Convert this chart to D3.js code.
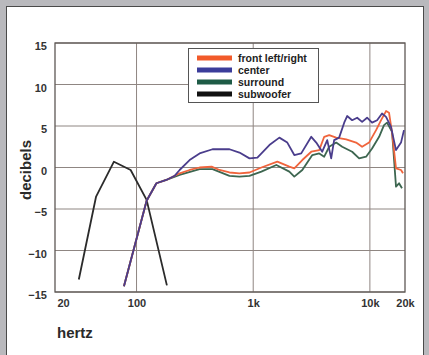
<!DOCTYPE html>
<html>
<head>
<meta charset="utf-8">
<script src="https://cdn.jsdelivr.net/npm/d3@7"></script>
<style>
  body { margin: 0; background: #b9b9bd; }
  svg { display: block; }
  text { font-family: "Liberation Sans", Arial, sans-serif; font-weight: bold; }
</style>
</head>
<body>
<svg id="chart"></svg>
<script>
// data: [hertz, decibels]
var front = [[78,-14.3],[122,-4.0],[148,-1.9],[180,-1.5],[234,-0.7],[285,-0.3],[347,0.0],[440,0.1],[514,-0.3],[626,-0.6],[762,-0.7],[929,-0.6],[1175,0.0],[1610,0.7],[2040,0.1],[2250,-0.1],[2635,0.9],[3145,1.9],[3680,2.1],[4060,3.7],[4480,3.9],[5140,3.6],[6265,3.4],[7620,3.0],[8580,2.5],[9840,3.0],[11300,4.5],[12480,5.7],[13760,6.8],[14590,6.6],[15490,4.2],[16750,-0.1],[18490,-0.3],[19230,-0.7]];
var center = [[78,-14.3],[122,-4.0],[148,-1.9],[180,-1.5],[212,-1.0],[234,-0.3],[285,0.9],[347,1.7],[448,2.2],[626,2.2],[762,1.8],[929,1.1],[1086,1.2],[1376,2.7],[1675,3.6],[1960,3.0],[2250,1.5],[2580,1.7],[3145,3.7],[3470,3.0],[3905,1.9],[4310,3.3],[4660,1.1],[4940,3.3],[5450,3.6],[6025,5.4],[6385,6.2],[7045,5.7],[7780,6.0],[8580,5.5],[9460,6.0],[10440,5.4],[11530,5.7],[12710,6.5],[13760,6.1],[15170,4.9],[16750,2.1],[18490,3.0],[19600,4.5]];
var surround = [[78,-14.3],[122,-4.0],[148,-1.9],[180,-1.5],[234,-0.9],[347,-0.2],[448,-0.2],[626,-1.0],[762,-1.1],[929,-1.0],[1175,-0.5],[1578,0.3],[2040,-0.5],[2250,-1.1],[2635,-0.3],[3210,1.5],[3680,1.7],[4060,1.3],[4480,2.5],[5140,3.0],[5790,2.5],[7045,1.9],[8090,1.1],[9280,1.3],[10440,2.3],[12000,3.7],[13220,5.1],[14030,5.4],[15490,4.3],[16750,-2.3],[17780,-1.9],[18850,-2.5]];
var subwoofer = [[32,-13.5],[45,-3.5],[64,0.7],[89,-0.3],[122,-3.9],[182,-14.2]];

var seriesNames = ["front left/right", "center", "surround", "subwoofer"];
var lineColors = ["#f0643c", "#4a3d8c", "#3d6650", "#2b2b2b"];
var swatchColors = ["#f25a2a", "#3b3c9a", "#1e5b46", "#111111"];

var xTicks = [20, 100, 1000, 10000, 20000];
var xTickLabels = ["20", "100", "1k", "10k", "20k"];
var yTicks = [15, 10, 5, 0, -5, -10, -15];

var W = 429, H = 355;
var margin = {top: 43, right: 24, bottom: 63, left: 55};
var width = W - margin.left - margin.right,
    height = H - margin.top - margin.bottom;

var svg = d3.select("#chart").attr("width", W).attr("height", H);

// white panel inside the grey frame
svg.append("rect")
  .attr("x", 6.5).attr("y", 6.5)
  .attr("width", 417).attr("height", 360)
  .attr("fill", "#ffffff")
  .attr("stroke", "#4a4a4a")
  .attr("stroke-width", 1);

var plot = svg.append("g")
  .attr("transform", "translate(" + margin.left + "," + margin.top + ")");

var x = d3.scaleLog().domain([20, 20000]).range([0, width]);
var y = d3.scaleLinear().domain([-15, 15]).range([height, 0]);

// grid
plot.append("g").selectAll("line")
  .data(yTicks)
  .enter().append("line")
  .attr("x1", 0).attr("x2", width)
  .attr("y1", function(d) { return y(d); })
  .attr("y2", function(d) { return y(d); })
  .attr("stroke", "#8f8682").attr("stroke-width", 1);

plot.append("g").selectAll("line")
  .data([100, 1000, 10000])
  .enter().append("line")
  .attr("x1", function(d) { return x(d); })
  .attr("x2", function(d) { return x(d); })
  .attr("y1", 0).attr("y2", height)
  .attr("stroke", "#8f8682").attr("stroke-width", 1);

plot.append("rect")
  .attr("width", width).attr("height", height)
  .attr("fill", "none")
  .attr("stroke", "#5e5855").attr("stroke-width", 1.3);

// axes (labels only)
var xAxis = plot.append("g")
  .attr("transform", "translate(0," + height + ")")
  .call(d3.axisBottom(x).tickValues(xTicks).tickSize(0).tickPadding(7)
    .tickFormat(function(d, i) { return xTickLabels[i]; }));
xAxis.select(".domain").remove();
xAxis.selectAll("text")
  .attr("font-size", "11px").attr("fill", "#333")
  .style("font-family", "Liberation Sans, Arial, sans-serif")
  .style("font-weight", "bold")
  .filter(function(d) { return d === 20; })
  .attr("text-anchor", "start").attr("dx", "2");

var yAxis = plot.append("g")
  .call(d3.axisLeft(y).tickValues(yTicks).tickSize(0).tickPadding(8)
    .tickFormat(function(d) { return d < 0 ? "\u2212" + Math.abs(d) : d; }));
yAxis.select(".domain").remove();
yAxis.selectAll("text")
  .attr("font-size", "11px").attr("fill", "#333")
  .style("font-family", "Liberation Sans, Arial, sans-serif")
  .style("font-weight", "bold")
  .attr("dy", "0.6em");

// axis titles
svg.append("text")
  .attr("x", 57).attr("y", 338)
  .attr("font-size", "15px").attr("fill", "#2a2a2a")
  .text("hertz");

svg.append("text")
  .attr("transform", "translate(31,170) rotate(-90)")
  .attr("text-anchor", "middle")
  .attr("font-size", "15px").attr("fill", "#2a2a2a")
  .text("decibels");

// curves
var line = d3.line()
  .x(function(d) { return x(d[0]); })
  .y(function(d) { return y(d[1]); });

var allSeries = [front, center, surround, subwoofer];
// draw subwoofer first, then surround, front, center on top
[3, 2, 0, 1].forEach(function(i) {
  plot.append("path")
    .datum(allSeries[i])
    .attr("fill", "none")
    .attr("stroke", lineColors[i])
    .attr("stroke-width", 1.8)
    .attr("stroke-linejoin", "round")
    .attr("d", line);
});

// legend
var legend = svg.append("g");
legend.append("rect")
  .attr("x", 188.5).attr("y", 48.5)
  .attr("width", 130).attr("height", 54)
  .attr("fill", "#ffffff")
  .attr("stroke", "#555").attr("stroke-width", 1);

var items = legend.selectAll("g.item")
  .data(seriesNames)
  .enter().append("g")
  .attr("class", "item")
  .attr("transform", function(d, i) { return "translate(197," + (58 + i * 12) + ")"; });

items.append("rect")
  .attr("x", 0).attr("y", -2.5)
  .attr("width", 35).attr("height", 5)
  .attr("fill", function(d, i) { return swatchColors[i]; });

items.append("text")
  .attr("x", 41).attr("y", 4)
  .attr("font-size", "10.5px").attr("fill", "#222")
  .text(function(d) { return d; });
</script>
</body>
</html>
